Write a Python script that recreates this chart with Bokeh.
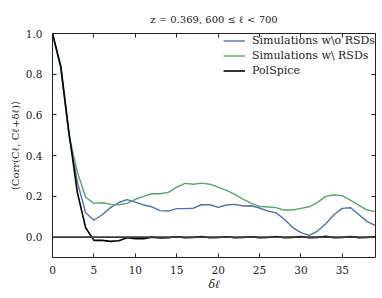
from bokeh.plotting import figure
from bokeh.models import LinearAxis, Legend, LegendItem, Span, Range1d, FixedTicker, PrintfTickFormatter
from bokeh.embed import file_html
from bokeh.resources import INLINE

# ---- data ----
delta_ell = list(range(40))
sim_no_rsd = [1.0, 0.83, 0.5, 0.27, 0.12, 0.083, 0.11, 0.145, 0.17, 0.184,
              0.172, 0.158, 0.149, 0.13, 0.128, 0.14, 0.14, 0.142, 0.159, 0.159,
              0.146, 0.158, 0.161, 0.153, 0.154, 0.143, 0.128, 0.119, 0.088, 0.047,
              0.022, 0.009, 0.03, 0.066, 0.111, 0.141, 0.144, 0.11, 0.076, 0.057]
sim_rsd = [1.0, 0.83, 0.5, 0.32, 0.196, 0.166, 0.169, 0.161, 0.159, 0.166,
           0.186, 0.2, 0.213, 0.213, 0.22, 0.246, 0.264, 0.26, 0.265, 0.26,
           0.246, 0.23, 0.21, 0.187, 0.166, 0.151, 0.148, 0.145, 0.133, 0.133,
           0.141, 0.149, 0.171, 0.2, 0.208, 0.204, 0.181, 0.156, 0.133, 0.125]
polspice = [1.0, 0.84, 0.51, 0.22, 0.046, -0.016, -0.016, -0.021, -0.018, -0.003,
            -0.008, -0.008, 0.0, -0.004, -0.003, 0.002, -0.003, -0.002, 0.003, -0.003,
            -0.002, 0.002, -0.003, -0.002, 0.002, -0.003, -0.002, 0.003, -0.003, -0.001,
            0.003, -0.003, -0.001, 0.004, -0.003, -0.002, 0.003, -0.003, -0.002, 0.003]
series_names = ["Simulations w\\o RSDs", "Simulations w\\ RSDs", "PolSpice"]
x_ticks = [0, 5, 10, 15, 20, 25, 30, 35]
y_ticks = [0.0, 0.2, 0.4, 0.6, 0.8, 1.0]
title_text = "z = 0.369, 600 \u2264 \u2113 < 700"
x_label = "\u03b4\u2113"
y_label = "\u27e8Corr(C\u2113, C\u2113+\u03b4\u2113)\u27e9"

FONT = "DejaVu Serif"
BLUE = "#4C72B0"
GREEN = "#55A868"
INK = "#222222"

p = figure(width=382, height=298, output_backend="svg", toolbar_location=None,
           x_range=Range1d(0, 39), y_range=Range1d(-0.1, 1.0),
           x_axis_location=None, y_axis_location=None)
p.min_border_left = 52
p.min_border_right = 7
p.min_border_top = 33
p.min_border_bottom = 41
p.outline_line_color = INK
p.outline_line_width = 1
p.xgrid.visible = False
p.ygrid.visible = False

p.title.text = title_text
p.title.align = "center"
p.title.text_font = FONT
p.title.text_font_size = "10px"
p.title.text_font_style = "normal"
p.title.text_color = INK
p.title.standoff = 18

def style_axis(ax, ticks, labels=True):
    ax.ticker = FixedTicker(ticks=ticks)
    ax.axis_line_color = None
    ax.major_tick_in = 4
    ax.major_tick_out = 0
    ax.major_tick_line_color = INK
    ax.minor_tick_line_color = None
    ax.major_label_text_font = FONT
    ax.major_label_text_color = INK
    ax.axis_label_text_font = FONT
    ax.axis_label_text_color = INK
    ax.axis_label_text_font_size = "11px"
    if labels:
        ax.major_label_text_font_size = "10.5px"
    else:
        ax.major_label_text_font_size = "0px"
        ax.major_label_standoff = 0

bottom = LinearAxis(axis_label=x_label)
style_axis(bottom, x_ticks)
bottom.major_label_standoff = 8
bottom.axis_label_standoff = 1
bottom.axis_label_text_font_style = "italic"
p.add_layout(bottom, "below")

left = LinearAxis(axis_label=y_label, formatter=PrintfTickFormatter(format="%.1f"))
style_axis(left, y_ticks)
left.major_label_standoff = 10
left.axis_label_standoff = 2
left.axis_label_text_font_size = "10px"
left.axis_label_text_font_style = "normal"
p.add_layout(left, "left")

top = LinearAxis()
style_axis(top, x_ticks, labels=False)
p.add_layout(top, "above")

right = LinearAxis()
style_axis(right, y_ticks, labels=False)
p.add_layout(right, "right")

p.add_layout(Span(location=0, dimension="width", line_color="#3a3a3a", line_width=1.8))

r1 = p.line(delta_ell, sim_no_rsd, line_color=BLUE, line_width=1.4)
r2 = p.line(delta_ell, sim_rsd, line_color=GREEN, line_width=1.4)
r3 = p.line(delta_ell, polspice, line_color="black", line_width=1.6)

legend = Legend(items=[LegendItem(label=series_names[0], renderers=[r1]),
                       LegendItem(label=series_names[1], renderers=[r2]),
                       LegendItem(label=series_names[2], renderers=[r3])],
                location="top_right", margin=0, padding=9, spacing=0,
                glyph_width=22, glyph_height=15, label_height=15, label_standoff=7,
                label_text_font=FONT, label_text_font_size="11px",
                label_text_color=INK,
                border_line_color=None, background_fill_alpha=0)
legend.margin = 0
p.add_layout(legend)

open("out.html", "w").write(file_html(p, INLINE))
